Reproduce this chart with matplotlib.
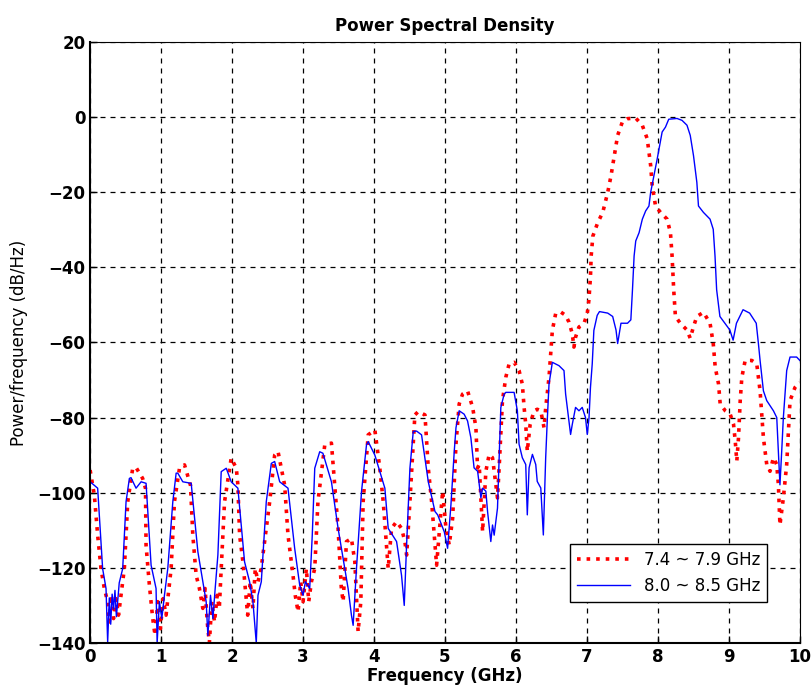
import numpy as np
import matplotlib
matplotlib.use("Agg")
import matplotlib.pyplot as plt

# 7.4 ~ 7.9 GHz band (red dotted)
f_red = [0.0, 0.059, 0.106, 0.153, 0.2, 0.247, 0.27, 0.3, 0.33, 0.365, 0.4, 0.435, 0.482, 0.53,
         0.6, 0.647, 0.74, 0.78, 0.788, 0.835, 0.882, 0.915, 0.953, 0.99, 1.028, 1.07, 1.1, 1.141,
         1.188, 1.259, 1.33, 1.414, 1.447, 1.494, 1.54, 1.588, 1.62, 1.65, 1.68, 1.715, 1.753, 1.79,
         1.82, 1.847, 1.894, 1.988, 2.06, 2.082, 2.106, 2.153, 2.186, 2.22, 2.256, 2.294, 2.327,
         2.365, 2.41, 2.53, 2.6, 2.647, 2.741, 2.788, 2.859, 2.89, 2.93, 2.967, 3.0, 3.047, 3.08,
         3.118, 3.165, 3.21, 3.306, 3.4, 3.447, 3.494, 3.54, 3.565, 3.612, 3.682, 3.73, 3.776, 3.814,
         3.847, 3.918, 4.012, 4.082, 4.13, 4.2, 4.247, 4.318, 4.388, 4.435, 4.46, 4.506, 4.576,
         4.624, 4.718, 4.765, 4.812, 4.882, 4.967, 5.014, 5.06, 5.108, 5.155, 5.2, 5.248, 5.318,
         5.39, 5.436, 5.459, 5.482, 5.53, 5.576, 5.623, 5.67, 5.717, 5.74, 5.763, 5.81, 5.857,
         5.904, 5.974, 6.044, 6.09, 6.115, 6.138, 6.16, 6.2, 6.255, 6.3, 6.35, 6.396, 6.42, 6.466,
         6.513, 6.56, 6.63, 6.7, 6.747, 6.794, 6.817, 6.84, 6.888, 6.958, 7.005, 7.028, 7.05, 7.06,
         7.084, 7.153, 7.223, 7.293, 7.34, 7.386, 7.433, 7.5, 7.572, 7.688, 7.78, 7.85, 7.898, 7.92,
         7.967, 8.037, 8.13, 8.177, 8.2, 8.223, 8.247, 8.316, 8.41, 8.456, 8.502, 8.549, 8.642,
         8.735, 8.78, 8.808, 8.855, 8.878, 8.95, 9.019, 9.066, 9.09, 9.112, 9.136, 9.16, 9.183,
         9.23, 9.323, 9.393, 9.417, 9.44, 9.487, 9.534, 9.58, 9.628, 9.675, 9.698, 9.72, 9.768,
         9.815, 9.862, 9.932, 10.0]
p_red = [-94, -100.6, -111.3, -120.2, -125.5, -129, -134.4, -127.3, -133.5, -128.2, -132.6, -127.3,
         -120.2, -102.4, -93.5, -93.3, -96.2, -98.8, -114, -124.6, -133.5, -138, -129, -136.2,
         -128.2, -132.6, -127.3, -120.2, -102.4, -93.5, -92.6, -98, -111.3, -122, -125.5, -130.8,
         -125.5, -134.4, -140, -129, -134.4, -127.3, -130.8, -120.2, -102.4, -90.8, -93.5, -98,
         -111.3, -118.4, -125.5, -132.6, -123.7, -130.8, -120.2, -123.7, -120.2, -102.4, -90, -89,
         -98, -111.3, -122, -127.3, -131.7, -123.7, -129, -120.2, -129, -123.7, -120.2, -102.4,
         -87.3, -86.8, -98, -109.5, -125.5, -129, -113, -112.2, -118.4, -137, -129, -102.4, -84.6,
         -83.3, -93.5, -102.4, -120.2, -109.5, -107.7, -109.5, -113, -116.6, -102.4, -79.3, -78.4,
         -79.3, -93.5, -102.4, -119.3, -99.6, -109.5, -113.9, -106.8, -87.1, -76.4, -73.75, -72.9,
         -77.3, -82.7, -93.4, -92.5, -110.4, -94.3, -89.8, -90.7, -97.9, -101.4, -93.4, -75.5,
         -69.3, -65.7, -65.3, -67.5, -71.1, -77.3, -81.8, -89, -81.8, -78.2, -77.8, -78.2, -82.7,
         -77.3, -69.3, -56.8, -52.3, -51.9, -52.8, -54.6, -57.7, -61.25, -58.6, -55.9, -55, -52.3,
         -48.75, -42.5, -37, -31.7, -28.1, -25.4, -20.1, -15.6, -10.3, -4.9, -1.3, -0.45, -0.3,
         -2.2, -5.8, -12.9, -18.3, -23.7, -25.4, -27.2, -30.8, -37, -46, -53.1, -54.9, -56.7,
         -58.9, -55.8, -53.1, -52, -54.9, -60.3, -66.6, -71.1, -76.4, -78.2, -79.1, -81.8, -86.25,
         -91.6, -85.4, -75.5, -69.3, -64.8, -64.8, -65.7, -69.3, -72.9, -85.4, -92.5, -94.3, -90.7,
         -92.5, -97.9, -108.6, -101.4, -92.5, -75.5, -72, -70.6]

# 8.0 ~ 8.5 GHz band (blue solid)
f_blue = [0.0, 0.106, 0.176, 0.224, 0.247, 0.27, 0.29, 0.31, 0.33, 0.35, 0.37, 0.388, 0.41, 0.459,
          0.506, 0.553, 0.576, 0.647, 0.718, 0.788, 0.859, 0.929, 0.944, 0.976, 1.01, 1.047, 1.094,
          1.165, 1.212, 1.235, 1.306, 1.424, 1.518, 1.588, 1.635, 1.659, 1.696, 1.73, 1.762, 1.8,
          1.847, 1.918, 1.988, 2.082, 2.176, 2.247, 2.294, 2.341, 2.365, 2.412, 2.482, 2.553, 2.6,
          2.671, 2.788, 2.882, 2.953, 3.0, 3.033, 3.094, 3.13, 3.165, 3.235, 3.28, 3.4, 3.494,
          3.565, 3.635, 3.682, 3.706, 3.753, 3.824, 3.894, 3.918, 4.012, 4.153, 4.2, 4.318, 4.388,
          4.426, 4.459, 4.506, 4.553, 4.6, 4.67, 4.765, 4.859, 4.897, 4.99, 5.037, 5.084, 5.131,
          5.155, 5.2, 5.27, 5.318, 5.365, 5.41, 5.46, 5.506, 5.53, 5.576, 5.6, 5.646, 5.67, 5.693,
          5.74, 5.787, 5.834, 5.857, 5.974, 6.02, 6.044, 6.09, 6.138, 6.16, 6.185, 6.232, 6.279,
          6.3, 6.35, 6.386, 6.419, 6.443, 6.466, 6.513, 6.607, 6.677, 6.7, 6.747, 6.77, 6.794, 6.84,
          6.888, 6.934, 6.98, 7.005, 7.03, 7.05, 7.075, 7.098, 7.145, 7.177, 7.293, 7.363, 7.41,
          7.433, 7.48, 7.572, 7.619, 7.642, 7.665, 7.688, 7.735, 7.781, 7.828, 7.874, 7.898, 7.944,
          7.99, 8.06, 8.107, 8.153, 8.27, 8.34, 8.41, 8.456, 8.502, 8.549, 8.572, 8.642, 8.735,
          8.78, 8.805, 8.828, 8.874, 8.944, 9.014, 9.06, 9.107, 9.153, 9.2, 9.293, 9.386, 9.417,
          9.44, 9.487, 9.534, 9.628, 9.675, 9.698, 9.72, 9.745, 9.768, 9.815, 9.862, 9.955, 10.0]
p_blue = [-97.1, -98.8, -120.2, -125.5, -139.8, -128, -135, -127, -131, -126, -133, -129, -124,
          -120.2, -102.4, -96.2, -96, -98.8, -97.1, -97.5, -119.3, -125.5, -140, -129, -133.5,
          -127.3, -120.2, -102.4, -94.8, -94.8, -97.1, -97.5, -115.7, -123.7, -129, -138, -127.3,
          -133.5, -125.5, -116.6, -94.4, -93.5, -97.1, -98.8, -118.4, -123.7, -129, -140, -127.3,
          -123.7, -102.4, -92.2, -91.7, -97.1, -98.8, -114.8, -124.6, -127.3, -123.7, -125.5,
          -111.3, -93.5, -89.1, -89.5, -97.1, -109.5, -117.5, -125.5, -132.6, -135.3, -120.2, -99.7,
          -87.3, -86.4, -90, -98.8, -109.5, -113, -122, -130, -114, -93.5, -83.7, -83.6, -84.6,
          -97.1, -105, -105.9, -110.4, -114.8, -103.2, -88.9, -82.7, -78.2, -79.1, -80.9, -85.4,
          -93.4, -94.3, -101.4, -98.8, -99.6, -105, -113, -108.6, -111.3, -104.1, -77.3, -73.75,
          -73.3, -73.3, -78.2, -87.1, -90.7, -92.5, -105.9, -93.4, -89.8, -92.5, -97, -98.75,
          -111.25, -90.7, -80, -71.1, -65.3, -66.2, -67.5, -73.75, -80.9, -84.5, -81.8, -77.3,
          -78.2, -77.3, -80, -84.5, -80, -72, -65.7, -56.8, -52.8, -51.8, -52.2, -53.1, -56.7,
          -60.3, -54.9, -54.9, -54, -46, -37, -33, -30.8, -27.2, -25, -23.7, -20.1, -15.6, -11.2,
          -4, -2.7, -0.6, -0.4, -0.9, -2.2, -4.9, -10.3, -17.4, -23.7, -25.4, -27.2, -29.9, -37,
          -46, -53.1, -54.9, -56.7, -59.4, -54.9, -53.1, -51.3, -52.2, -54.9, -60.4, -64.8, -72.9,
          -75.5, -78.2, -80, -88.9, -97.9, -88.9, -80, -67.5, -63.9, -63.9, -64.8]

fig = plt.figure(figsize=(8.12, 6.97), dpi=100)
ax = fig.add_axes([0.111, 0.0775, 0.874, 0.8625])

ax.plot(f_red, p_red, color="red", linestyle=":", linewidth=2.6, label="7.4 ~ 7.9 GHz")
ax.plot(f_blue, p_blue, color="blue", linestyle="-", linewidth=1.0, label="8.0 ~ 8.5 GHz")

ax.set_xlim(0, 10)
ax.set_ylim(-140, 20)
ax.set_xticks(np.arange(0, 11, 1))
ax.set_yticks(np.arange(-140, 21, 20))
ax.grid(True, color="black", linestyle=(0, (4, 4)), linewidth=0.9)
ax.tick_params(direction="in", length=5, labelsize=12, width=1)
for lbl in ax.get_xticklabels() + ax.get_yticklabels():
    lbl.set_fontweight("bold")
for side in ["left", "bottom"]:
    ax.spines[side].set_linewidth(1.5)
for side in ["top", "right"]:
    ax.spines[side].set_linewidth(0.8)

ax.set_xlabel("Frequency (GHz)", fontsize=12, fontweight="bold", labelpad=1)
ax.set_ylabel("Power/frequency (dB/Hz)", fontsize=12, labelpad=6)
ax.set_title("Power Spectral Density", fontsize=12, fontweight="bold", pad=8)

leg = ax.legend(loc="lower right", bbox_to_anchor=(0.965, 0.055), fontsize=12, fancybox=False,
                framealpha=1, edgecolor="black", borderpad=0.4, handlelength=3.2, labelspacing=0.5)
leg.get_frame().set_linewidth(1.0)

plt.savefig("out.png", dpi=100)
